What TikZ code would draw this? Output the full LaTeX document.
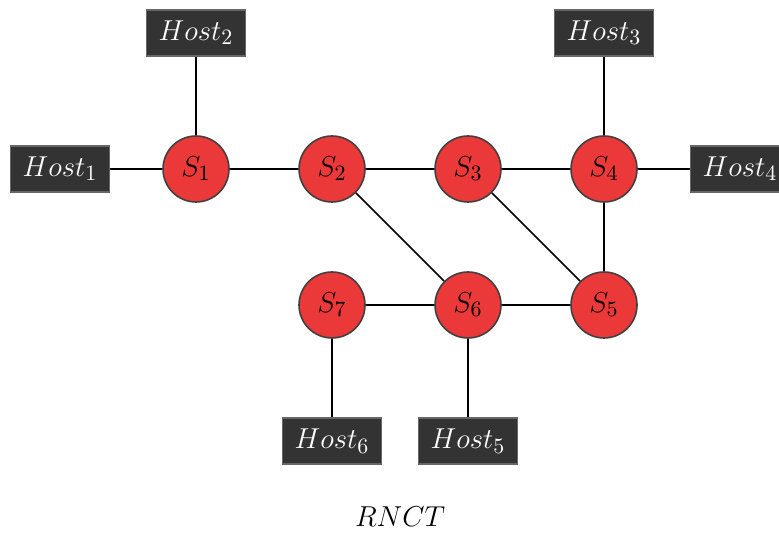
\documentclass[tikz,border=0pt]{standalone}
\usetikzlibrary{positioning, calc}
\definecolor{switchred}{RGB}{235,56,56}
\definecolor{hostgray}{RGB}{51,51,51}
\begin{document}
\begin{tikzpicture}[
	% Set the default distance between node centres.
	node distance=68pt, on grid
	]
	% Define custom styles to make the code cleaner and more reusable.
	\tikzset{
		switch/.style={draw=black!75, circle, fill=switchred, minimum size=33pt, inner sep=0pt, line width=0.8pt, font=\fontsize{15.5}{18}\selectfont},
		host/.style={draw=black!60, rectangle, fill=hostgray, text=white, minimum width=49.5pt, minimum height=23pt, inner sep=0pt, line width=0.6pt, font=\fontsize{15}{18}\selectfont},
		line/.style={draw, line width=0.8pt}
	}
	\useasboundingbox (-98pt,84.5pt) rectangle (291.5pt,-182pt);
	
	% === NODES ===
	% Place the switches and hosts.
	
	\node[switch] (s1) {$S_1$};
	\node[switch, right=of s1] (s2) {$S_2$};
	\node[switch, right=of s2] (s3) {$S_3$};
	\node[switch, right=of s3] (s4) {$S_4$};
	\node[switch, below=of s4] (s5) {$S_5$};
	\node[switch, below=of s3] (s6) {$S_6$};
	\node[switch, below=of s2] (s7) {$S_7$};
	
	\node[host, left=of s1] (host1) {$Host_1$};
	\node[host, above=of s1] (host2) {$Host_2$};
	\node[host, above=of s4] (host3) {$Host_3$};
	\node[host, right=of s4] (host4) {$Host_4$};
	\node[host, below=of s6] (host5) {$Host_5$};
	\node[host, below=of s7] (host6) {$Host_6$};
	
	\node[font=\fontsize{15.5}{18}\selectfont] (title) at ($(host6)!0.5!(host5)+(0,-38pt)$) {$RNCT$};
	
	% === CONNECTIONS ===
	% Draw the links between the nodes.
	
	\draw[line] (host1) -- (s1);
	\draw[line] (host2) -- (s1);
	\draw[line] (s1) -- (s2);
	\draw[line] (s2) -- (s3);
	\draw[line] (s3) -- (s4);
	\draw[line] (s4) -- (host3);
	\draw[line] (s4) -- (host4);
	\draw[line] (s4) -- (s5);
	\draw[line] (s2) -- (s6);
	\draw[line] (s3) -- (s5);
	\draw[line] (s7) -- (s6);
	\draw[line] (s6) -- (s5);
	\draw[line] (s7) -- (host6);
	\draw[line] (s6) -- (host5);
\end{tikzpicture}
\end{document}
